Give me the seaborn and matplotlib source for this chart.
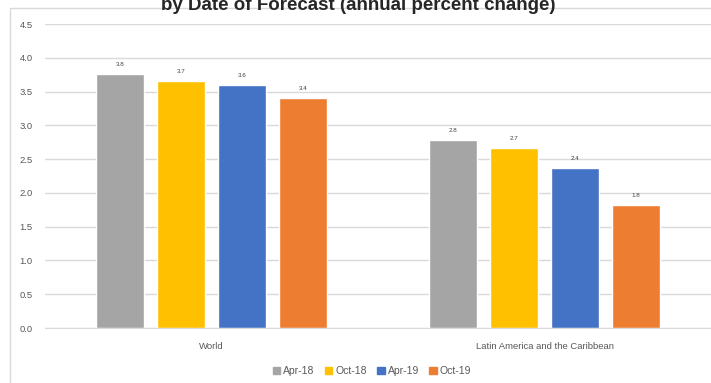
import pandas as pd
import matplotlib
matplotlib.use("Agg")
import matplotlib.pyplot as plt
import matplotlib.patches as mpatches
import seaborn as sns

regions = ["World", "Latin America and the Caribbean"]
dates = ["Apr-18", "Oct-18", "Apr-19", "Oct-19"]
world = [3.76, 3.66, 3.60, 3.41]
lac = [2.79, 2.67, 2.37, 1.82]
colors = ["#A5A5A5", "#FFC000", "#4472C4", "#ED7D31"]

df = pd.DataFrame({
    "region": [regions[0]] * 4 + [regions[1]] * 4,
    "date": dates * 2,
    "growth": world + lac,
})

sns.set_style("white")
plt.rcParams["font.family"] = ["Liberation Sans", "DejaVu Sans"]

fig = plt.figure(figsize=(7.11, 3.83), dpi=100)
ax = fig.add_axes([45 / 711, 1 - 328 / 383, 666 / 711, 304 / 383])

# chart frame (cropped on right and bottom)
fig.patches.append(mpatches.Rectangle((10 / 711, -0.1), 1.2, 1 - 8 / 383 + 0.1,
                                      transform=fig.transFigure, fill=False,
                                      edgecolor="#d9d9d9", linewidth=1))

sns.barplot(data=df, x="region", y="growth", hue="date", palette=colors,
            width=0.73, gap=0.21, legend=False, ax=ax, saturation=1)

for c in ax.containers:
    ax.bar_label(c, fmt="%.1f", padding=5, fontsize=4.5, color="#404040")

ax.set_ylim(0, 4.5)
ax.set_xlim(-0.5, 1.5)
ax.set_yticks([0, 0.5, 1, 1.5, 2, 2.5, 3, 3.5, 4, 4.5])
ax.set_yticklabels([f"{v:.1f}" for v in ax.get_yticks()])
ax.yaxis.grid(True, color="#d9d9d9", linewidth=1)
ax.set_axisbelow(True)
ax.set_xlabel("")
ax.set_ylabel("")
ax.tick_params(axis="both", length=0, labelsize=6.8, labelcolor="#595959")
ax.tick_params(axis="x", pad=10)
ax.tick_params(axis="y", pad=9)
for s in ["top", "right", "left"]:
    ax.spines[s].set_visible(False)
ax.spines["bottom"].set_color("#d9d9d9")

handles = [mpatches.Patch(color=c, label=d) for c, d in zip(colors, dates)]
fig.legend(handles=handles, loc="center", bbox_to_anchor=(372 / 711, 1 - 371 / 383),
           ncol=4, frameon=False, fontsize=7.5, labelcolor="#595959",
           handlelength=0.7, handleheight=0.7, handletextpad=0.3, columnspacing=1.0)

fig.text(358 / 711, 1 - 10 / 383, "by Date of Forecast (annual percent change)",
         ha="center", va="baseline", fontsize=13.5, fontweight="bold")

fig.savefig("out.png", dpi=100)
